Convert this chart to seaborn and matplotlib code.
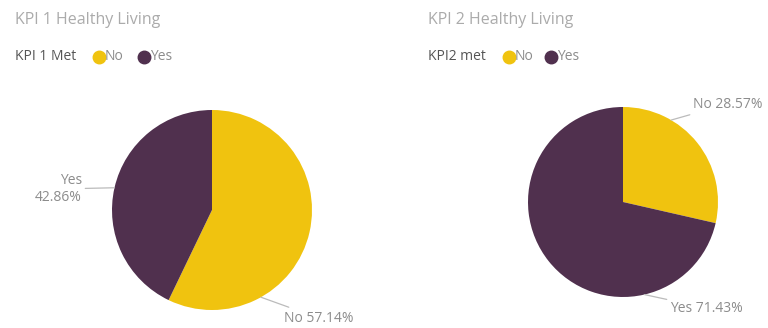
import numpy as np
import matplotlib
matplotlib.use("Agg")
import matplotlib.pyplot as plt
import seaborn as sns

# Values shown in the two KPI pies (percent of cases)
categories = ["No", "Yes"]
kpi1_values = [57.14, 42.86]
kpi2_values = [28.57, 71.43]
titles = ["KPI 1 Healthy Living", "KPI 2 Healthy Living"]
legend_titles = ["KPI 1 Met", "KPI2 met"]

sns.set_theme(style="white")
plt.rcParams["font.family"] = ["Open Sans", "DejaVu Sans"]

palette = sns.color_palette(["#F0C30F", "#50304E"])

W, H = 768, 328
fig = plt.figure(figsize=(W / 100, H / 100), dpi=100)
ax = fig.add_axes([0, 0, 1, 1])

title_color = "#ABABAB"
label_color = "#8C8C8C"
legend_title_color = "#555555"


def px(x, y):
    """Convert top-left pixel coordinates to axes data coordinates."""
    return x, H - y


def edge_point(center, radius, cw_angle_deg):
    a = np.deg2rad(cw_angle_deg)
    return center[0] + radius * np.sin(a), center[1] + radius * np.cos(a)


panels = [
    dict(values=kpi1_values, center=px(212, 210), radius=100, x0=15,
         legend_dots=(99, 144)),
    dict(values=kpi2_values, center=px(623, 202), radius=95, x0=428,
         legend_dots=(509, 551)),
]

for i, p in enumerate(panels):
    ax.pie(p["values"], colors=palette, startangle=90, counterclock=False,
           center=p["center"], radius=p["radius"],
           wedgeprops=dict(linewidth=0))
    # title and legend row
    ax.text(*px(p["x0"], 20), titles[i], color=title_color, fontsize=11.5,
            va="center", ha="left")
    ax.text(*px(p["x0"], 57), legend_titles[i], color=legend_title_color,
            fontsize=10, va="center", ha="left")
    for dot_x, cat, col in zip(p["legend_dots"], categories, palette):
        ax.plot(*px(dot_x, 57), marker="o", markersize=9, color=col,
                linestyle="none")
        ax.text(*px(dot_x + 6, 57), cat, color=label_color, fontsize=10,
                va="center", ha="left")

ax.set_xlim(0, W)
ax.set_ylim(0, H)
ax.set_aspect("equal")
ax.axis("off")

line_kw = dict(arrowstyle="-", color="#BBBBBB", lw=0.9,
               shrinkA=0, shrinkB=0)

# Data labels with leader lines, anchored on the wedge edges
p1, p2 = panels
cum1 = np.cumsum([0] + kpi1_values) / 100 * 360
cum2 = np.cumsum([0] + kpi2_values) / 100 * 360

ax.annotate(f"{categories[1]}\n{kpi1_values[1]:.2f}%",
            xy=edge_point(p1["center"], p1["radius"],
                          (cum1[1] + cum1[2]) / 2),
            xytext=px(82, 189), ha="right", va="center", color=label_color,
            fontsize=10, linespacing=1.25, annotation_clip=False,
            arrowprops=line_kw)
ax.annotate(f"{categories[0]} {kpi1_values[0]:.2f}%",
            xy=edge_point(p1["center"], p1["radius"], cum1[1] - 55),
            xytext=px(284, 318), ha="left", va="center", color=label_color,
            fontsize=10, annotation_clip=False, arrowprops=line_kw)
ax.annotate(f"{categories[0]} {kpi2_values[0]:.2f}%",
            xy=edge_point(p2["center"], p2["radius"],
                          (cum2[0] + cum2[1]) / 2 - 21),
            xytext=px(693, 104), ha="left", va="center", color=label_color,
            fontsize=10, annotation_clip=False, arrowprops=line_kw)
ax.annotate(f"{categories[1]} {kpi2_values[1]:.2f}%",
            xy=edge_point(p2["center"], p2["radius"], 167),
            xytext=px(670, 308), ha="left", va="center", color=label_color,
            fontsize=10, annotation_clip=False, arrowprops=line_kw)

fig.savefig("out.png", dpi=100, facecolor="white")
